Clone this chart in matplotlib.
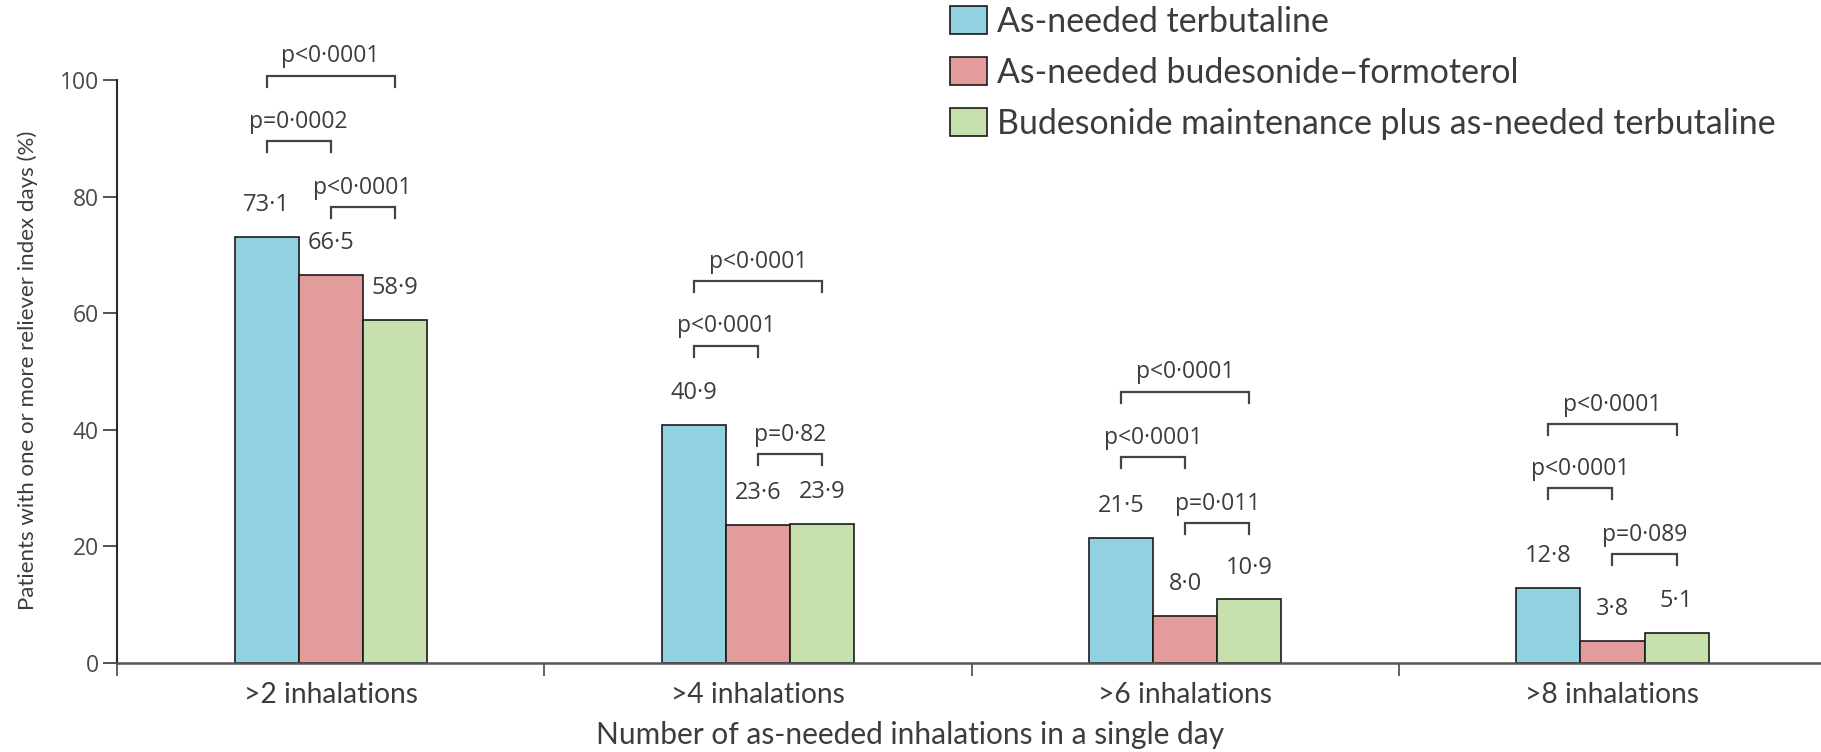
import numpy as np
import matplotlib
matplotlib.use('Agg')
import matplotlib.pyplot as plt
from matplotlib.patches import Patch

# data
groups = ['>2 inhalations', '>4 inhalations', '>6 inhalations', '>8 inhalations']
series = ['As-needed terbutaline',
          'As-needed budesonide\u2013formoterol',
          'Budesonide maintenance plus as-needed terbutaline']
terbutaline = [73.1, 40.9, 21.5, 12.8]
bud_form = [66.5, 23.6, 8.0, 3.8]
bud_maint = [58.9, 23.9, 10.9, 5.1]

# pairwise comparisons per group: (bar a, bar b, bracket height, label)
pvalues = [
    [(0, 2, 100.7, 'p<0\u00b70001'), (0, 1, 89.5, 'p=0\u00b70002'), (1, 2, 78.2, 'p<0\u00b70001')],
    [(0, 2, 65.5, 'p<0\u00b70001'), (0, 1, 54.4, 'p<0\u00b70001'), (1, 2, 35.8, 'p=0\u00b782')],
    [(0, 2, 46.5, 'p<0\u00b70001'), (0, 1, 35.3, 'p<0\u00b70001'), (1, 2, 24.0, 'p=0\u00b7011')],
    [(0, 2, 41.0, 'p<0\u00b70001'), (0, 1, 30.0, 'p<0\u00b70001'), (1, 2, 18.7, 'p=0\u00b7089')],
]

colors = ['#92d1e2', '#e29c9b', '#c7e1ae']
txt = '#3c3c3c'
narrow = ['Lato', 'DejaVu Sans']
regular = ['Open Sans', 'DejaVu Sans']

fig = plt.figure(figsize=(18.21, 7.52), dpi=100)
ax = fig.add_axes([117 / 1821, 89 / 752, 1 - 117 / 1821, 583 / 752])

x = np.arange(len(groups))
w = 0.15
values = [terbutaline, bud_form, bud_maint]
for k, vals in enumerate(values):
    pos = x + (k - 1) * w
    ax.bar(pos, vals, w, color=colors[k], edgecolor='#1a1a1a', linewidth=1.2, zorder=2)
    for xx, v in zip(pos, vals):
        ax.annotate(f'{v:.1f}'.replace('.', '\u00b7'), (xx, v), xytext=(0, 23),
                    textcoords='offset points', ha='center', va='center',
                    fontsize=17, color=txt, family=regular)

# significance brackets
tick = 1.9
for g, comps in enumerate(pvalues):
    for a, b, h, lab in comps:
        xa = g + (a - 1) * w
        xb = g + (b - 1) * w
        ax.plot([xa, xa, xb, xb], [h - tick, h, h, h - tick], color='#444444',
                lw=1.6, clip_on=False, solid_joinstyle='miter')
        ax.annotate(lab, ((xa + xb) / 2, h), xytext=(0, 14), textcoords='offset points',
                    ha='center', va='center', fontsize=16.5, color=txt, family=regular,
                    annotation_clip=False)

ax.set_xlim(-0.5, 3.488)
ax.set_ylim(0, 100)
for s in ['top', 'right']:
    ax.spines[s].set_visible(False)
ax.spines['left'].set_color('#2a2a2a')
ax.spines['bottom'].set_color('#555555')
ax.spines['left'].set_linewidth(1.5)
ax.spines['bottom'].set_linewidth(1.8)

ax.set_yticks([0, 20, 40, 60, 80, 100])
ax.tick_params(axis='y', length=10, width=1.3, color='#444444', pad=3,
               labelsize=16.5, labelcolor='#4a4a4a')
for t in ax.get_yticklabels():
    t.set_family(regular)

ax.set_xticks([-0.5, 0.5, 1.5, 2.5])
ax.set_xticklabels([])
ax.set_xticks(x, minor=True)
ax.set_xticklabels(groups, minor=True, fontsize=20.3, color=txt, family=narrow)
ax.tick_params(axis='x', which='major', length=9, width=1.3, color='#555555')
ax.tick_params(axis='x', which='minor', length=0, pad=14)

fig.text(28 / 1821, 1 - 370 / 752, 'Patients with one or more reliever index days (%)',
         rotation=90, ha='center', va='center', fontsize=16, color=txt, family=narrow)
fig.text(910 / 1821, 1 - 735 / 752, 'Number of as-needed inhalations in a single day',
         ha='center', va='center', fontsize=21.5, color=txt, family=narrow)

handles = [Patch(facecolor=c, edgecolor='#1a1a1a', linewidth=1.2) for c in colors]
fig.legend(handles, series, loc='upper left', bbox_to_anchor=(950 / 1821, 1 - 6 / 752),
           frameon=False, prop={'family': narrow, 'size': 24.4},
           handlelength=1.09, handleheight=0.88, handletextpad=0.3,
           labelspacing=0.56, borderpad=0, borderaxespad=0, labelcolor=txt)

fig.savefig('out.png', dpi=100)
